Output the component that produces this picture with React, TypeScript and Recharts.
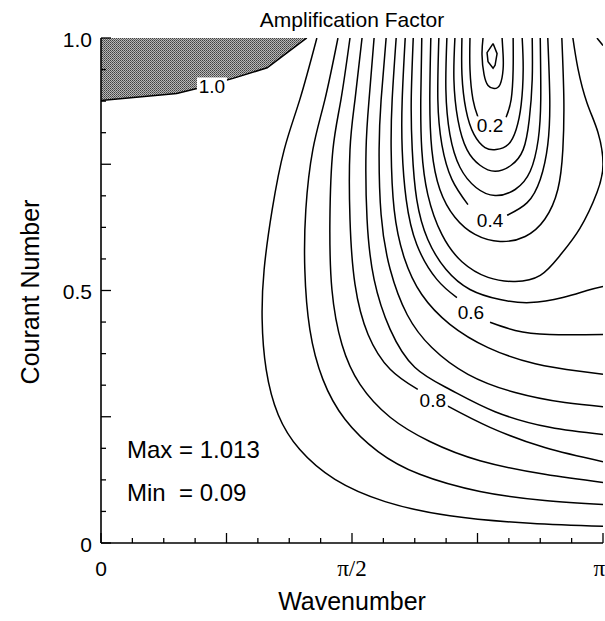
import React from "react";
import { ComposedChart, Line, Area, XAxis, YAxis, ReferenceDot, Customized } from "recharts";

// x: wavenumber in units of pi, y: Courant number
// contour points, [k/pi, courant]
const gray10 = [[0, 0.876], [0.151, 0.89], [0.191, 0.9], [0.263, 0.92], [0.331, 0.941], [0.371, 0.971], [0.41, 1.0]];

const c95 = [[0.43, 1.0], [0.396, 0.878], [0.365, 0.779], [0.341, 0.66], [0.325, 0.542], [0.321, 0.443], [0.329, 0.344], [0.353, 0.254], [0.396, 0.185], [0.466, 0.126], [0.566, 0.082], [0.695, 0.054], [0.855, 0.039], [1.0, 0.033]];
const c90 = [[0.472, 1.0], [0.446, 0.878], [0.422, 0.779], [0.408, 0.66], [0.406, 0.542], [0.416, 0.423], [0.442, 0.324], [0.486, 0.245], [0.552, 0.181], [0.635, 0.136], [0.755, 0.102], [0.884, 0.084], [1.0, 0.076]];
const c85 = [[0.496, 1.0], [0.478, 0.878], [0.462, 0.779], [0.456, 0.641], [0.46, 0.502], [0.48, 0.393], [0.516, 0.314], [0.576, 0.249], [0.655, 0.201], [0.755, 0.163], [0.884, 0.136], [1.0, 0.12]];
const c80a = [[0.52, 1.0], [0.506, 0.878], [0.496, 0.779], [0.496, 0.641], [0.506, 0.512], [0.532, 0.413], [0.576, 0.344], [0.631, 0.304]];
const c80b = [[0.689, 0.272], [0.775, 0.229], [0.884, 0.189], [1.0, 0.161]];
const c75 = [[0.544, 1.0], [0.534, 0.878], [0.528, 0.779], [0.53, 0.641], [0.544, 0.522], [0.576, 0.423], [0.625, 0.348], [0.695, 0.304], [0.785, 0.26], [0.894, 0.229], [1.0, 0.215]];
const c70 = [[0.568, 1.0], [0.558, 0.878], [0.554, 0.779], [0.558, 0.65], [0.576, 0.542], [0.61, 0.452], [0.659, 0.387], [0.731, 0.334], [0.825, 0.298], [0.924, 0.278], [1.0, 0.27]];
const c65 = [[0.588, 1.0], [0.58, 0.878], [0.578, 0.779], [0.584, 0.66], [0.604, 0.565], [0.639, 0.492], [0.695, 0.433], [0.771, 0.387], [0.865, 0.355], [0.954, 0.34], [1.0, 0.334]];
const c60a = [[0.606, 1.0], [0.6, 0.878], [0.6, 0.779], [0.608, 0.68], [0.629, 0.591], [0.669, 0.522], [0.709, 0.486]];
const c60b = [[0.775, 0.437], [0.825, 0.421], [0.894, 0.413], [1.0, 0.413]];
const c55 = [[0.622, 1.0], [0.618, 0.878], [0.62, 0.779], [0.629, 0.68], [0.651, 0.601], [0.687, 0.542], [0.735, 0.502], [0.795, 0.482], [0.855, 0.476], [0.92, 0.486], [0.968, 0.5], [1.0, 0.508]];
const c55corner = [[0.988, 1.0], [1.0, 0.985]];
const c50 = [[0.639, 1.0], [0.637, 0.878], [0.639, 0.779], [0.651, 0.69], [0.679, 0.611], [0.719, 0.557], [0.771, 0.526], [0.825, 0.518], [0.875, 0.53], [0.914, 0.569], [0.954, 0.623], [0.988, 0.694], [1.0, 0.75], [0.99, 0.813], [0.968, 0.872], [0.95, 0.94], [0.94, 1.0]];
const c45 = [[0.657, 1.0], [0.655, 0.878], [0.659, 0.779], [0.675, 0.7], [0.705, 0.645], [0.745, 0.611], [0.795, 0.597], [0.845, 0.607], [0.884, 0.641], [0.91, 0.7], [0.92, 0.779], [0.922, 0.878], [0.918, 1.0]];
const c40a = [[0.673, 1.0], [0.671, 0.878], [0.679, 0.789], [0.699, 0.72], [0.731, 0.67]];
const c40b = [[0.809, 0.649], [0.849, 0.674], [0.875, 0.72], [0.89, 0.789], [0.894, 0.878], [0.89, 1.0]];
const c35 = [[0.689, 1.0], [0.687, 0.898], [0.695, 0.809], [0.715, 0.744], [0.747, 0.704], [0.785, 0.688], [0.825, 0.7], [0.855, 0.736], [0.871, 0.799], [0.876, 0.878], [0.875, 1.0]];
const c30 = [[0.705, 1.0], [0.703, 0.918], [0.711, 0.838], [0.729, 0.779], [0.755, 0.748], [0.785, 0.736], [0.817, 0.748], [0.841, 0.779], [0.853, 0.838], [0.859, 0.918], [0.859, 1.0]];
const c25 = [[0.719, 1.0], [0.719, 0.928], [0.727, 0.858], [0.743, 0.809], [0.765, 0.783], [0.787, 0.779], [0.811, 0.789], [0.827, 0.819], [0.837, 0.868], [0.841, 0.938], [0.839, 1.0]];
const c20a = [[0.735, 1.0], [0.735, 0.938], [0.741, 0.878], [0.751, 0.843]];
const c20b = [[0.807, 0.843], [0.817, 0.878], [0.821, 0.938], [0.821, 1.0]];
const c15 = [[0.761, 1.0], [0.759, 0.967], [0.763, 0.928], [0.771, 0.906], [0.783, 0.9], [0.795, 0.908], [0.801, 0.938], [0.801, 0.967], [0.799, 1.0]];
const c10 = [[0.781, 0.989], [0.789, 0.969], [0.785, 0.946], [0.781, 0.94], [0.771, 0.953], [0.769, 0.971], [0.781, 0.989]];

const contourLabels = [
  { text: "1.0", k: 0.221, c: 0.906 },
  { text: "0.2", k: 0.775, c: 0.829 },
  { text: "0.4", k: 0.775, c: 0.641 },
  { text: "0.6", k: 0.737, c: 0.458 },
  { text: "0.8", k: 0.661, c: 0.284 },
];

const tickValues = [0, 0.0625, 0.125, 0.1875, 0.25, 0.3125, 0.375, 0.4375, 0.5, 0.5625, 0.625, 0.6875, 0.75, 0.8125, 0.875, 0.9375, 1];
const majorTicks = [0, 0.25, 0.5, 0.75, 1];
const yTickText: Record<string, string> = { "0": "0", "0.5": "0.5", "1": "1.0" };
const xTickText: Record<string, string> = { "0": "0", "0.5": "π/2", "1": "π" };

const smoothLines = [c95, c90, c85, c80a, c80b, c75, c70, c65, c60a, c60b, c55, c55corner, c50, c45, c40a, c40b, c35, c30, c25, c20a, c20b, c15];

const toRows = (pts: number[][]) => pts.map(([k, c]) => ({ k, c }));

const SANS = "'Liberation Sans', Arial, Helvetica, sans-serif";
const SERIF = "'Liberation Serif', 'Times New Roman', serif";

const tickLen = (v: number) => (majorTicks.includes(v) ? 10 : 5);

function LeftTick(props: any) {
  const { x, y, payload } = props;
  const v = payload.value;
  const label = yTickText[String(v)];
  return (
    <g>
      <line x1={x} y1={y} x2={x + tickLen(v)} y2={y} stroke="#000" strokeWidth={1.3} />
      {label && (
        <text x={x - 9} y={y + 1} textAnchor="end" dominantBaseline="central" fontSize={21} fontFamily={SANS} fill="#000">
          {label}
        </text>
      )}
    </g>
  );
}

function RightTick(props: any) {
  const { x, y, payload } = props;
  return <line x1={x} y1={y} x2={x - tickLen(payload.value)} y2={y} stroke="#000" strokeWidth={1.3} />;
}

function BottomTick(props: any) {
  const { x, y, payload } = props;
  const v = payload.value;
  const label = xTickText[String(v)];
  const serif = v !== 0;
  // the last label sits at the right edge of the page, keep it inside
  const anchor = v === 1 ? "end" : "middle";
  const tx = v === 1 ? x + 2 : x;
  return (
    <g>
      <line x1={x} y1={y} x2={x} y2={y - tickLen(v)} stroke="#000" strokeWidth={1.3} />
      {label && (
        <text x={tx} y={y + 25} textAnchor={anchor} dominantBaseline="central" fontSize={serif ? 23 : 21} fontFamily={serif ? SERIF : SANS} fill="#000">
          {label}
        </text>
      )}
    </g>
  );
}

function TopTick(props: any) {
  const { x, y, payload } = props;
  return <line x1={x} y1={y} x2={x} y2={y + tickLen(payload.value)} stroke="#000" strokeWidth={1.3} />;
}

const makeLabel = (text: string) => (props: any) => {
  const { cx, cy } = props;
  return (
    <g>
      <rect x={cx - 15} y={cy - 8} width={30} height={16} fill="#fff" />
      <text x={cx} y={cy + 1} textAnchor="middle" dominantBaseline="central" fontSize={19} fontFamily={SANS} fill="#000">
        {text}
      </text>
    </g>
  );
};

function Texts() {
  return (
    <g fontFamily={SANS} fill="#000">
      <text x={352} y={19} textAnchor="middle" dominantBaseline="central" fontSize={21}>Amplification Factor</text>
      <text x={30} y={292} textAnchor="middle" dominantBaseline="central" fontSize={25} transform="rotate(-90 30 292)">Courant Number</text>
      <text x={352} y={601} textAnchor="middle" dominantBaseline="central" fontSize={25}>Wavenumber</text>
      <text x={127} y={449} dominantBaseline="central" fontSize={24}>Max = 1.013</text>
      <text x={127} y={492} dominantBaseline="central" fontSize={24} style={{ whiteSpace: "pre" }}>{"Min  = 0.09"}</text>
    </g>
  );
}

export default function App() {
  return (
    <div style={{ position: "absolute", left: 0, top: 0, width: 605, height: 621, background: "#fff" }}>
      <ComposedChart width={605} height={621} margin={{ top: 38, right: 2, bottom: 0, left: 0 }}>
        <defs>
          <pattern id="halftone" width="2" height="2" patternUnits="userSpaceOnUse">
            <rect width="2" height="2" fill="#b8b8b8" />
            <rect width="1" height="1" fill="#404040" />
            <rect x="1" y="1" width="1" height="1" fill="#606060" />
          </pattern>
        </defs>
        <XAxis
          xAxisId={0}
          type="number"
          dataKey="k"
          domain={[0, 1]}
          ticks={tickValues}
          interval={0}
          height={78}
          tickSize={0}
          tickMargin={0}
          tickLine={false}
          axisLine={{ stroke: "#000", strokeWidth: 1.6 }}
          tick={<BottomTick />}
          allowDataOverflow
        />
        <XAxis
          xAxisId="top"
          orientation="top"
          type="number"
          dataKey="k"
          domain={[0, 1]}
          ticks={tickValues}
          interval={0}
          height={0}
          tickSize={0}
          tickMargin={0}
          tickLine={false}
          axisLine={{ stroke: "#000", strokeWidth: 1.6 }}
          tick={<TopTick />}
          allowDataOverflow
        />
        <YAxis
          yAxisId={0}
          type="number"
          domain={[0, 1]}
          ticks={tickValues}
          interval={0}
          width={101}
          tickSize={0}
          tickMargin={0}
          tickLine={false}
          axisLine={{ stroke: "#000", strokeWidth: 1.6 }}
          tick={<LeftTick />}
          allowDataOverflow
        />
        <YAxis
          yAxisId="right"
          orientation="right"
          type="number"
          domain={[0, 1]}
          ticks={tickValues}
          interval={0}
          width={0}
          tickSize={0}
          tickMargin={0}
          tickLine={false}
          axisLine={{ stroke: "#000", strokeWidth: 1.6 }}
          tick={<RightTick />}
          allowDataOverflow
        />
        <Area
          data={toRows(gray10)}
          dataKey="c"
          type="linear"
          baseValue={1}
          fill="url(#halftone)"
          fillOpacity={1}
          stroke="#000"
          strokeWidth={1.5}
          isAnimationActive={false}
          dot={false}
          activeDot={false}
        />
        {smoothLines.map((pts, i) => (
          <Line
            key={i}
            data={toRows(pts)}
            dataKey="c"
            type="natural"
            stroke="#000"
            strokeWidth={1.5}
            dot={false}
            activeDot={false}
            isAnimationActive={false}
          />
        ))}
        <Line data={toRows(c10)} dataKey="c" type="linear" stroke="#000" strokeWidth={1.5} dot={false} activeDot={false} isAnimationActive={false} />
        {contourLabels.map((l) => (
          <ReferenceDot key={l.text} x={l.k} y={l.c} r={0} shape={makeLabel(l.text)} />
        ))}
        <Customized component={Texts} />
      </ComposedChart>
    </div>
  );
}
